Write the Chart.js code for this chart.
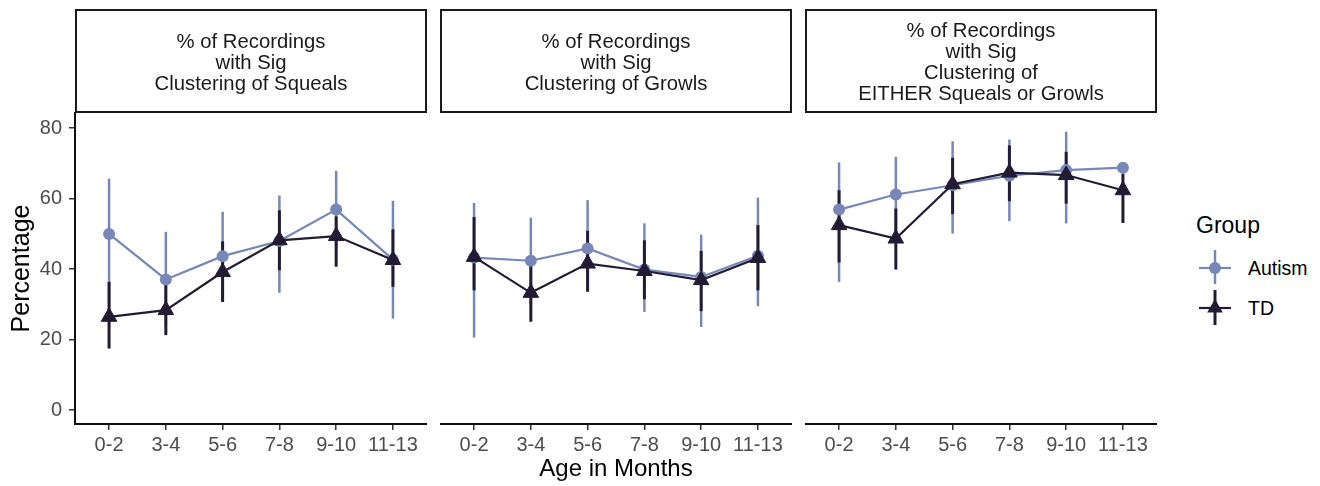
<!DOCTYPE html>
<html><head><meta charset="utf-8">
<script src="https://cdn.jsdelivr.net/npm/chart.js@4"></script>
<style>
html,body{margin:0;padding:0;background:#fff;}
#wrap{position:relative;width:1320px;height:486px;overflow:hidden;font-family:"Liberation Sans",Arial,sans-serif;}
canvas{position:absolute;top:0;}
.strip{position:absolute;top:9px;height:104px;box-sizing:border-box;border:2px solid #1a1a1a;display:flex;align-items:center;justify-content:center;text-align:center;font-size:20.3px;line-height:21px;color:#1a1a1a;padding-top:2px;}
.lg{position:absolute;line-height:1;white-space:nowrap;}
</style></head>
<body>
<div id="wrap">
  <canvas id="c1" width="427" height="486" style="left:0px"></canvas>
  <canvas id="c2" width="352" height="486" style="left:440px"></canvas>
  <canvas id="c3" width="352" height="486" style="left:805px"></canvas>
  <div class="strip" style="left:75px;width:352px;">% of Recordings<br>with Sig<br>Clustering of Squeals</div>
  <div class="strip" style="left:440px;width:352px;">% of Recordings<br>with Sig<br>Clustering of Growls</div>
  <div class="strip" style="left:805px;width:352px;">% of Recordings<br>with Sig<br>Clustering of<br>EITHER Squeals or Growls</div>
  <div class="lg" style="left:1196px;top:214px;font-size:23px;color:#000;">Group</div>
  <svg style="position:absolute;left:1197px;top:248px" width="36" height="80">
    <line x1="2" y1="20" x2="34" y2="20" stroke="#7788b8" stroke-width="2.2"/>
    <line x1="18" y1="2" x2="18" y2="36" stroke="#7788b8" stroke-width="2.5"/>
    <circle cx="18" cy="20" r="6" fill="#7788b8"/>
    <line x1="2" y1="60" x2="34" y2="60" stroke="#221b33" stroke-width="2.2"/>
    <line x1="18" y1="42" x2="18" y2="77" stroke="#221b33" stroke-width="3"/>
    <polygon points="18,51 25.8,64.5 10.2,64.5" fill="#221b33"/>
  </svg>
  <div class="lg" style="left:1248px;top:259px;font-size:19.5px;color:#000;">Autism</div>
  <div class="lg" style="left:1248px;top:299px;font-size:19.5px;color:#000;">TD</div>
</div>
<script>
const categories = ['0-2','3-4','5-6','7-8','9-10','11-13'];
const yTicks = [0, 20, 40, 60, 80];

const squealsAutism     = [50.0, 37.1, 43.7, 48.0, 56.9, 42.7];
const squealsAutismLow  = [29.3, 24.0, 31.0, 33.3, 46.0, 26.0];
const squealsAutismHigh = [65.7, 50.6, 56.3, 60.9, 67.9, 59.4];
const squealsTD         = [26.5, 28.4, 39.2, 48.2, 49.4, 42.6];
const squealsTDLow      = [17.5, 21.3, 30.7, 39.7, 40.7, 35.0];
const squealsTDHigh     = [36.4, 35.5, 47.9, 56.7, 55.0, 51.3];

const growlsAutism      = [43.3, 42.4, 45.9, 39.9, 37.8, 43.8];
const growlsAutismLow   = [20.6, 30.0, 33.8, 27.9, 23.6, 29.5];
const growlsAutismHigh  = [58.8, 54.6, 59.6, 53.0, 49.8, 60.3];
const growlsTD          = [43.5, 33.3, 41.6, 39.5, 36.9, 43.2];
const growlsTDLow       = [34.0, 25.1, 33.6, 31.5, 28.1, 34.0];
const growlsTDHigh      = [54.8, 41.0, 50.9, 48.2, 45.2, 52.5];

const eitherAutism      = [56.9, 61.2, 63.8, 66.5, 68.1, 68.8];
const eitherAutismLow   = [36.4, 50.5, 50.1, 53.6, 53.0, null];
const eitherAutismHigh  = [70.3, 71.9, 76.3, 76.8, 79.0, null];
const eitherTD          = [52.5, 48.7, 64.1, 67.4, 66.7, 62.4];
const eitherTDLow       = [41.9, 39.9, 55.6, 59.3, 58.6, 53.1];
const eitherTDHigh      = [62.4, 57.2, 71.6, 75.1, 73.3, 67.1];

const BLUE = '#7788b8';
const DARK = '#221b33';
const FONT = '"Liberation Sans", Arial, sans-serif';

const errorBars = {
  id: 'errorBars',
  beforeDatasetsDraw(chart) {
    const {ctx} = chart;
    const xs = chart.scales.x, ys = chart.scales.y;
    ctx.save();
    chart.data.datasets.forEach(ds => {
      ctx.strokeStyle = ds.borderColor;
      ctx.lineWidth = ds.errWidth;
      ctx.lineCap = 'butt';
      ds.data.forEach((p, i) => {
        const lo = ds.errLow[i], hi = ds.errHigh[i];
        if (lo == null || hi == null) return;
        const px = xs.getPixelForValue(p.x);
        ctx.beginPath();
        ctx.moveTo(px, ys.getPixelForValue(lo));
        ctx.lineTo(px, ys.getPixelForValue(hi));
        ctx.stroke();
      });
    });
    ctx.restore();
  }
};

function pts(arr) { return arr.map((v, i) => ({x: i, y: v})); }

function makePanel(id, aut, autLo, autHi, td, tdLo, tdHi, showY, showXTitle) {
  new Chart(document.getElementById(id), {
    type: 'line',
    data: {
      datasets: [
        {label: 'Autism', data: pts(aut), errLow: autLo, errHigh: autHi, errWidth: 2.5,
         borderColor: BLUE, backgroundColor: BLUE, borderWidth: 2.2, pointStyle: 'circle',
         pointRadius: 6, pointBorderWidth: 0, pointBackgroundColor: BLUE, order: 1, tension: 0},
        {label: 'TD', data: pts(td), errLow: tdLo, errHigh: tdHi, errWidth: 3,
         borderColor: DARK, backgroundColor: DARK, borderWidth: 2.2, pointStyle: 'triangle',
         pointRadius: 9, pointBorderWidth: 1, pointBackgroundColor: DARK, pointBorderColor: DARK, order: 0, tension: 0}
      ]
    },
    options: {
      responsive: false, animation: false, devicePixelRatio: 1,
      layout: {autoPadding: false, padding: {top: 113, left: 0, right: 0, bottom: 0}},
      plugins: {legend: {display: false}, tooltip: {enabled: false}},
      scales: {
        x: {
          type: 'linear', min: -0.6, max: 5.6,
          afterBuildTicks: s => { s.ticks = categories.map((c, i) => ({value: i})); },
          afterFit: s => { s.height = 62; s.paddingLeft = 0; s.paddingRight = 0; },
          ticks: {callback: v => categories[Math.round(v)], font: {size: 20, family: FONT}, color: '#4d4d4d', padding: 3, maxRotation: 0, autoSkip: false},
          grid: {display: true, drawOnChartArea: false, drawTicks: true, tickLength: 6, color: '#333333', lineWidth: 1.5},
          border: {display: true, color: '#111111', width: 2},
          title: {display: showXTitle, text: 'Age in Months', font: {size: 24, family: FONT}, color: '#000', padding: {top: 0, bottom: 2}}
        },
        y: {
          type: 'linear', min: -3.9, max: 84.3, display: showY,
          afterBuildTicks: s => { s.ticks = yTicks.map(v => ({value: v})); },
          afterFit: s => { s.width = showY ? 75 : 0; s.paddingTop = 0; s.paddingBottom = 0; },
          ticks: {font: {size: 20, family: FONT}, color: '#4d4d4d', padding: 7},
          grid: {display: true, drawOnChartArea: false, drawTicks: true, tickLength: 6, color: '#333333', lineWidth: 1.5},
          border: {display: true, color: '#111111', width: 2},
          title: {display: true, text: 'Percentage', font: {size: 25, family: FONT}, color: '#000', padding: {top: 7, bottom: 0}}
        }
      }
    },
    plugins: [errorBars]
  });
}

makePanel('c1', squealsAutism, squealsAutismLow, squealsAutismHigh, squealsTD, squealsTDLow, squealsTDHigh, true, false);
makePanel('c2', growlsAutism, growlsAutismLow, growlsAutismHigh, growlsTD, growlsTDLow, growlsTDHigh, false, true);
makePanel('c3', eitherAutism, eitherAutismLow, eitherAutismHigh, eitherTD, eitherTDLow, eitherTDHigh, false, false);
</script>
</body></html>
